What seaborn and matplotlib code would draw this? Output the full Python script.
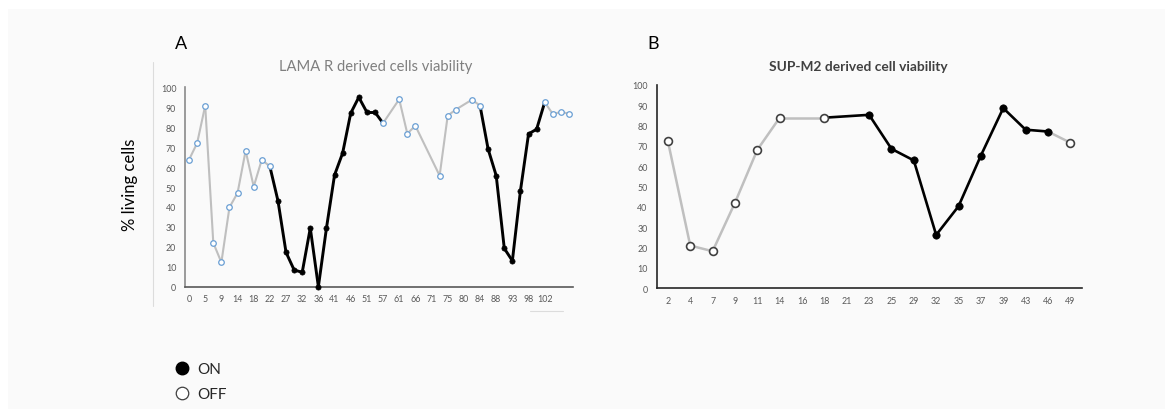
import numpy as np
import pandas as pd
import matplotlib
matplotlib.use("Agg")
import matplotlib.pyplot as plt
import seaborn as sns
from matplotlib.lines import Line2D
from matplotlib.patches import Rectangle

sns.set_theme(style="white")
plt.rcParams['font.family'] = ['Lato', 'DejaVu Sans']

nan = np.nan

# ---------------- data ----------------
lama_values = [63.7, 72, 90.8, 22, 12.2, 39.8, 47, 68.2, 50.2, 63.7, 60.3,
               43.1, 17.2, 8.4, 7.2, 29.4, 0, 29.4, 56, 67, 87, 95, 87.5, 87.5,
               82, nan, 94, 76.8, 80.7, nan, nan, 55.7, 85.8, 88.8, nan, 93.8, 90.8,
               69, 55.7, 19.2, 13, 48.2, 76.6, 79, 92.5, 86.6, 87.6, 86.8]
lama_state = ['OFF'] * 11 + ['ON'] * 13 + ['OFF'] * 13 + ['ON'] * 7 + ['OFF'] * 4
lama_ticklabels = ['0', '5', '9', '14', '18', '22', '27', '32', '36', '41', '46', '51',
                   '57', '61', '66', '71', '75', '80', '84', '88', '93', '98', '102']

sup_days = ['2', '4', '7', '9', '11', '14', '16', '18', '21', '23', '25', '29', '32',
            '35', '37', '39', '43', '46', '49']
sup_values = [72.3, 21, 18.2, 42, 68, 83.8, nan, 83.8, nan, 85.2, 68.5, 62.8, 26.2,
              40.3, 65.2, 88.5, 77.9, 77, 71.5]
sup_state = ['OFF'] * 9 + ['ON'] * 9 + ['OFF']

y_ticks = list(range(0, 101, 10))

W, H = 1173, 414
fig = plt.figure(figsize=(W / 100, H / 100), dpi=100)
fig.patch.set_facecolor('white')


def fx(x):
    return x / W


def fy(y):
    return 1 - y / H


# light background of the embedded picture
bg = Rectangle((fx(8), fy(410)), fx(1165) - fx(8), fy(10) - fy(410),
               transform=fig.transFigure, facecolor='#fafafa',
               edgecolor='none', zorder=-10)
fig.add_artist(bg)


def draw_panel(ax, values, states, rule, off_edge, off_s, on_s, off_lw, lw_gray, lw_black,
               gray='#bfbfbf'):
    n = len(values)
    df = pd.DataFrame({'pos': np.arange(n), 'value': values, 'state': states}).dropna()
    rows = list(df.itertuples(index=False))
    for a, b in zip(rows[:-1], rows[1:]):
        if rule == 'either':
            on = a.state == 'ON' or b.state == 'ON'
        else:
            on = b.state == 'ON'
        ax.plot([a.pos, b.pos], [a.value, b.value],
                color='black' if on else gray,
                lw=lw_black if on else lw_gray,
                solid_capstyle='round', zorder=2.5 if on else 2, clip_on=False)
    sns.scatterplot(data=df[df.state == 'OFF'], x='pos', y='value', ax=ax, marker='o',
                    s=off_s, color='white', edgecolor=off_edge, linewidth=off_lw,
                    zorder=4, clip_on=False, legend=False)
    sns.scatterplot(data=df[df.state == 'ON'], x='pos', y='value', ax=ax, marker='o',
                    s=on_s, color='black', edgecolor='black', linewidth=0.5,
                    zorder=4, clip_on=False, legend=False)
    ax.set_xlim(-0.5, n - 0.5)
    ax.set_ylim(0, 100)
    ax.set_yticks(y_ticks)
    ax.set_facecolor('none')
    ax.set_xlabel('')
    ax.set_ylabel('')
    for s in ['top', 'right']:
        ax.spines[s].set_visible(False)
    ax.tick_params(length=0, labelsize=6.4, labelcolor='#595959')


# Panel A
axA = fig.add_axes([fx(185), fy(287.7), fx(573) - fx(185), fy(88.3) - fy(287.7)])
draw_panel(axA, lama_values, lama_state, 'either', '#6a9fd4', 16, 14, 0.9, 1.5, 2.1)
axA.set_xticks(np.arange(0, 2 * len(lama_ticklabels), 2))
axA.set_xticklabels(lama_ticklabels)
axA.tick_params(axis='y', pad=6.3)
axA.tick_params(axis='x', pad=5.3)
axA.spines['left'].set_color('#8a8a8a')
axA.spines['left'].set_linewidth(1.2)
axA.spines['bottom'].set_color('#595959')
axA.spines['bottom'].set_linewidth(1.2)

# Panel B
axB = fig.add_axes([fx(656.7), fy(289.3), fx(1081.5) - fx(656.7), fy(85.7) - fy(289.3)])
draw_panel(axB, sup_values, sup_state, 'end', '#404040', 32, 28, 1.2, 1.8, 1.9)
axB.set_xticks(np.arange(len(sup_days)))
axB.set_xticklabels(sup_days)
axB.tick_params(axis='y', pad=6.6)
axB.tick_params(axis='x', pad=5.8)
for s in ['left', 'bottom']:
    axB.spines[s].set_color('#262626')
    axB.spines[s].set_linewidth(1.2)

# Titles and labels
fig.text(fx(376), fy(67), 'LAMA R derived cells viability', ha='center', va='center',
         fontsize=10.6, color='#7f7f7f')
fig.text(fx(858), fy(67), 'SUP-M2 derived cell viability', ha='center', va='center',
         fontsize=9.9, color='#404040', fontweight='bold')
fig.text(fx(181), fy(44), 'A', ha='center', va='center', fontsize=13, color='black')
fig.text(fx(653), fy(44), 'B', ha='center', va='center', fontsize=13, color='black')
fig.text(fx(130), fy(185), '% living cells', ha='center', va='center', rotation=90,
         fontsize=12, color='black')

# decorative faint lines of the original picture
fig.add_artist(Line2D([fx(153), fx(153)], [fy(63), fy(307)], color='#dcdcdc', lw=0.8))
fig.add_artist(Line2D([fx(530), fx(563)], [fy(312), fy(312)], color='#dcdcdc', lw=0.8))

# Legend
handles = [Line2D([], [], marker='o', linestyle='none', markersize=9,
                  markerfacecolor='black', markeredgecolor='black'),
           Line2D([], [], marker='o', linestyle='none', markersize=9,
                  markerfacecolor='white', markeredgecolor='#404040', markeredgewidth=0.9)]
fig.legend(handles, ['ON', 'OFF'], loc='upper left', bbox_to_anchor=(fx(174), fy(363)),
           frameon=False, fontsize=11, handlelength=1.0, handletextpad=0.55,
           labelspacing=0.75, borderpad=0, borderaxespad=0)

fig.savefig('out.png', dpi=100, facecolor='white')
